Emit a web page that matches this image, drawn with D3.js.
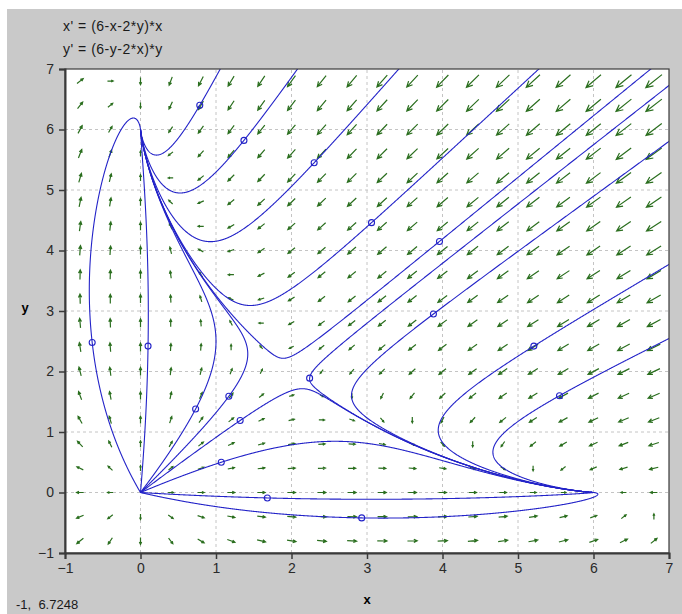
<!DOCTYPE html>
<html>
<head>
<meta charset="utf-8">
<script src="https://cdn.jsdelivr.net/npm/d3@7"></script>
<style>
  body { margin: 0; background: #fff; }
  text { font-family: "Liberation Sans", Arial, sans-serif; }
</style>
</head>
<body>
<svg id="chart" width="682" height="614"></svg>
<script>
// System shown in the header of the chart
const equations = ["x' = (6-x-2*y)*x", "y' = (6-y-2*x)*y"];
const dxdt = (x, y) => (6 - x - 2 * y) * x;
const dydt = (x, y) => (6 - y - 2 * x) * y;

// Starting points (small circles)
const startX = [0.785, 1.37, 2.30, 3.06, 3.96, 3.88, 5.21, 5.55, -0.64, 0.10, 0.73, 1.17, 1.32, 1.07, 1.68, 2.93, 2.24];
const startY = [6.40, 5.82, 5.45, 4.46, 4.15, 2.95, 2.42, 1.60, 2.48, 2.42, 1.38, 1.59, 1.19, 0.50, -0.09, -0.42, 1.89];

// Direction field sample points
const gridX = [-0.8, -0.4, 0, 0.4, 0.8, 1.2, 1.6, 2, 2.4, 2.8, 3.2, 3.6, 4, 4.4, 4.8, 5.2, 5.6, 6, 6.4, 6.8];
const gridY = [-0.8, -0.4, 0, 0.4, 0.8, 1.2, 1.6, 2, 2.4, 2.8, 3.2, 3.6, 4, 4.4, 4.8, 5.2, 5.6, 6, 6.4, 6.8];

const xTicks = [-1, 0, 1, 2, 3, 4, 5, 6, 7];
const yTicks = [-1, 0, 1, 2, 3, 4, 5, 6, 7];
const cursorText = "-1,  6.7248";

const svg = d3.select("#chart");
const margin = {left: 65, right: 13, top: 69, bottom: 61};
const W = 682, H = 614;

let x = d3.scaleLinear().domain([-1, 7]).range([margin.left, W - margin.right]);
let y = d3.scaleLinear().domain([-1, 7]).range([H - margin.bottom, margin.top]);

// gray panel
svg.append("rect")
    .attr("x", 7).attr("y", 9)
    .attr("width", W - 7).attr("height", H - 9)
    .attr("fill", "#c9c9c9");

svg.append("rect")
    .attr("x", x(-1)).attr("y", y(7))
    .attr("width", x(7) - x(-1)).attr("height", y(-1) - y(7))
    .attr("fill", "#fff");

svg.append("defs").append("clipPath")
    .attr("id", "plot-clip")
    .append("rect")
    .attr("x", x(-1)).attr("y", y(7))
    .attr("width", x(7) - x(-1)).attr("height", y(-1) - y(7));

// dashed grid
let grid = svg.append("g").attr("stroke", "#c4c4c4").attr("stroke-dasharray", "3,3");
grid.selectAll(".gx")
    .data(xTicks.slice(1, -1))
    .enter().append("line")
    .attr("x1", d => x(d)).attr("x2", d => x(d))
    .attr("y1", y(-1)).attr("y2", y(7));
grid.selectAll(".gy")
    .data(yTicks.slice(1, -1))
    .enter().append("line")
    .attr("y1", d => y(d)).attr("y2", d => y(d))
    .attr("x1", x(-1)).attr("x2", x(7));

let plot = svg.append("g").attr("clip-path", "url(#plot-clip)");

// direction field
let kx = (x(1) - x(0)), ky = (y(0) - y(1));
let arrowPath = d => {
    let vx = dxdt(d[0], d[1]), vy = dydt(d[0], d[1]);
    let mag = Math.hypot(vx, vy);
    if (mag < 1e-9) return "";
    let sx = vx * kx, sy = -vy * ky;
    let sl = Math.hypot(sx, sy);
    let ux = sx / sl, uy = sy / sl;
    let len = Math.min(21, 4 * Math.cbrt(mag));
    let cx = x(d[0]), cy = y(d[1]);
    let tx = cx - ux * len / 2, ty = cy - uy * len / 2;
    let hx = cx + ux * len / 2, hy = cy + uy * len / 2;
    let hl = Math.max(2, len * 0.38), a = Math.PI / 7;
    let b1x = hx - hl * (ux * Math.cos(a) - uy * Math.sin(a));
    let b1y = hy - hl * (uy * Math.cos(a) + ux * Math.sin(a));
    let b2x = hx - hl * (ux * Math.cos(a) + uy * Math.sin(a));
    let b2y = hy - hl * (uy * Math.cos(a) - ux * Math.sin(a));
    return `M${tx},${ty}L${hx},${hy}M${b1x},${b1y}L${hx},${hy}L${b2x},${b2y}`;
};

plot.append("g")
    .selectAll("path")
    .data(d3.cross(gridX, gridY))
    .enter().append("path")
    .attr("d", arrowPath)
    .attr("fill", "none")
    .attr("stroke", "#2a6e1e")
    .attr("stroke-width", 1.2);

// trajectories: integrate the system forward and backward from each start point
function field(p) {
    return [dxdt(p[0], p[1]), dydt(p[0], p[1])];
}

function trace(x0, y0, dir) {
    let p = [x0, y0];
    let pts = [p];
    for (let i = 0; i < 12000; i++) {
        let v = field(p);
        let s = Math.hypot(v[0], v[1]);
        if (s < 1e-4) break;
        let h = dir * Math.min(0.01, 0.006 / s);
        let k1 = v;
        let k2 = field([p[0] + h / 2 * k1[0], p[1] + h / 2 * k1[1]]);
        let k3 = field([p[0] + h / 2 * k2[0], p[1] + h / 2 * k2[1]]);
        let k4 = field([p[0] + h * k3[0], p[1] + h * k3[1]]);
        p = [p[0] + h / 6 * (k1[0] + 2 * k2[0] + 2 * k3[0] + k4[0]),
             p[1] + h / 6 * (k1[1] + 2 * k2[1] + 2 * k3[1] + k4[1])];
        pts.push(p);
        if (p[0] < -1.5 || p[0] > 7.5 || p[1] < -1.5 || p[1] > 7.5) break;
    }
    return pts;
}

let starts = startX.map((sx, i) => [sx, startY[i]]);
let curves = starts.map(s => trace(s[0], s[1], -1).reverse().concat(trace(s[0], s[1], 1).slice(1)));

let line = d3.line().x(d => x(d[0])).y(d => y(d[1]));

plot.append("g")
    .selectAll("path")
    .data(curves)
    .enter().append("path")
    .attr("d", line)
    .attr("fill", "none")
    .attr("stroke", "#2323c8")
    .attr("stroke-width", 1.1);

plot.append("g")
    .selectAll("circle")
    .data(starts)
    .enter().append("circle")
    .attr("cx", d => x(d[0]))
    .attr("cy", d => y(d[1]))
    .attr("r", 3)
    .attr("fill", "none")
    .attr("stroke", "#2323c8")
    .attr("stroke-width", 1.1);

// frame and axes
svg.append("rect")
    .attr("x", x(-1)).attr("y", y(7))
    .attr("width", x(7) - x(-1)).attr("height", y(-1) - y(7))
    .attr("fill", "none").attr("stroke", "#3a3a3a").attr("stroke-width", 1.2);

let axes = {
    x: d3.axisBottom(x).tickValues(xTicks).tickSize(6).tickPadding(4).tickFormat(d3.format("d")),
    y: d3.axisLeft(y).tickValues(yTicks).tickSize(6).tickPadding(5).tickFormat(d3.format("d"))
};

let gx = svg.append("g")
    .attr("transform", `translate(0, ${y(-1)})`)
    .call(axes.x);
let gy = svg.append("g")
    .attr("transform", `translate(${x(-1)}, 0)`)
    .call(axes.y);

[gx, gy].forEach(g => {
    g.select(".domain").attr("stroke", "#3a3a3a").attr("stroke-width", 2);
    g.selectAll(".tick line").attr("stroke", "#3a3a3a").attr("stroke-width", 1.5);
    g.selectAll(".tick text")
        .attr("fill", "#2a2a2a")
        .style("font-size", "14px")
        .style("font-family", "'Liberation Sans', Arial, sans-serif");
});

// header, labels, status
svg.selectAll(".eq")
    .data(equations)
    .enter().append("text")
    .attr("x", 63)
    .attr("y", (d, i) => 31 + i * 23)
    .attr("fill", "#1a1a1a")
    .style("font-size", "14px")
    .style("letter-spacing", "0.5px")
    .text(d => d);

svg.append("text")
    .attr("x", (x(-1) + x(7)) / 2)
    .attr("y", 604)
    .attr("text-anchor", "middle")
    .style("font-size", "13px")
    .style("font-weight", "bold")
    .text("x");

svg.append("text")
    .attr("x", 25)
    .attr("y", 312)
    .attr("text-anchor", "middle")
    .style("font-size", "13px")
    .style("font-weight", "bold")
    .text("y");

svg.append("text")
    .attr("x", 16)
    .attr("y", 609)
    .attr("fill", "#1a1a1a")
    .style("font-size", "13px")
    .style("white-space", "pre")
    .text(cursorText);
</script>
</body>
</html>
